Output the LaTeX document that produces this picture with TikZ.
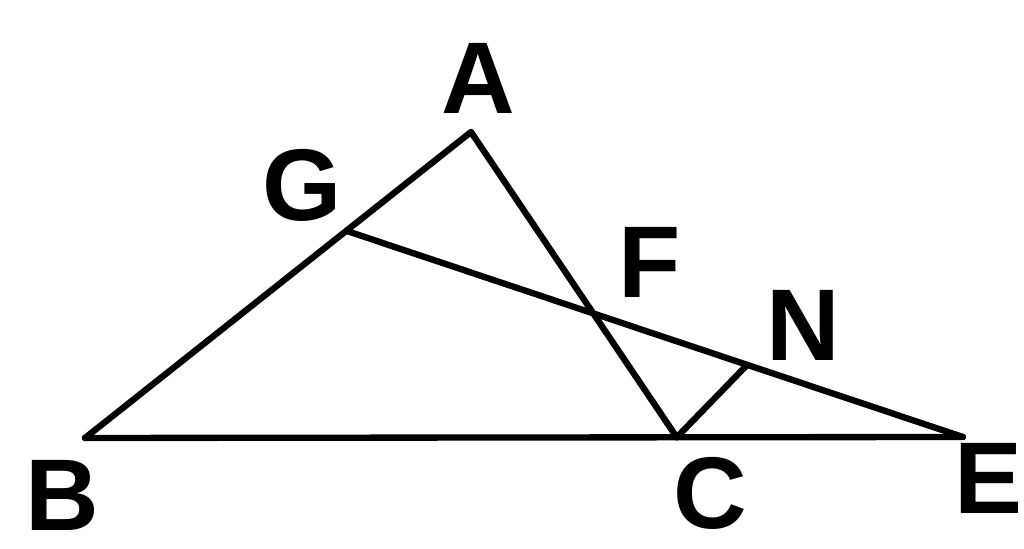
\documentclass[tikz,border=0pt]{standalone}
\usepackage{fontspec}
\setmainfont{Liberation Sans}
\usetikzlibrary{calc}

\begin{document}
\begin{tikzpicture}[line join=round, line cap=round,
    side/.style={line width=3.6pt, black},
    lbl/.style={font=\fontsize{58}{58}\selectfont\bfseries, inner sep=0pt}]

    \useasboundingbox (0,0) rectangle (20.48,10.98);

    % vertices
    \coordinate (A) at (9.42, 8.34);
    \coordinate (B) at (1.70, 2.22);
    \coordinate (E) at (19.26, 2.24);
    \coordinate (C) at ($(B)!0.674!(E)$);
    \coordinate (G) at ($(B)!0.677!(A)$);
    \coordinate (N) at ($(G)!0.65!(E)$);
    \coordinate (F) at (intersection of A--C and G--E);

    % sides
    \draw[side] (B) -- (A) -- (C);
    \draw[side] (B) -- (E);
    \draw[side] (G) -- (E);
    \draw[side] (C) -- (N);

    % letters
    \node[lbl] (lA) at (9.56, 9.42) {A};
    \node[lbl] (lG) at (6.04, 7.28) {G};
    \node[lbl] (lF) at (13.0, 5.74) {F};
    \node[lbl] (lN) at (16.06, 4.48) {N};
    \node[lbl] (lB) at (1.24, 1.08) {B};
    \node[lbl] (lC) at (14.2, 1.12) {C};
    \node[lbl] (lE) at (19.76, 1.42) {E};

\end{tikzpicture}
\end{document}
